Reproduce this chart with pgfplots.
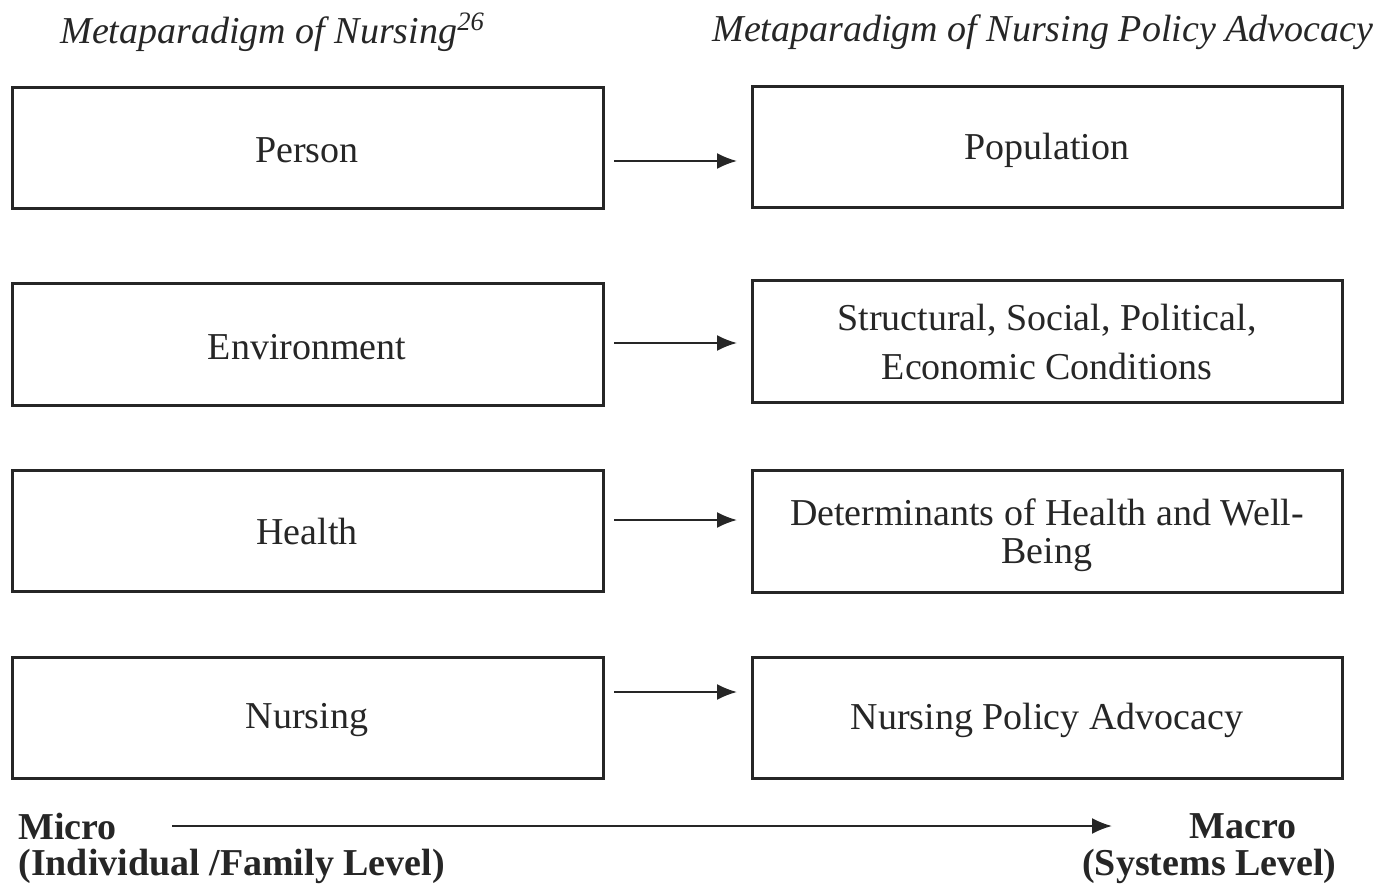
\documentclass[border=0pt]{standalone}
\usepackage{pgfplots}
\pgfplotsset{compat=1.18}
\usepackage{fontspec}
\setmainfont{Liberation Serif}
\usetikzlibrary{arrows.meta}
\tikzset{lbl/.style={font=\fontsize{19}{23}\selectfont, inner sep=0pt, text=black!85}}
\begin{document}
\begin{tikzpicture}
\begin{axis}[
  width=690pt, height=443.5pt, scale only axis,
  xmin=0, xmax=1380, ymin=0, ymax=887, y dir=reverse,
  axis lines=none, clip=false,
]
\addplot[draw=none] coordinates {(0,0) (1380,887)};
% left boxes
\addplot[black!85, line width=1.5pt] coordinates {(12,88) (603,88) (603,209) (12,209)} --cycle;
\addplot[black!85, line width=1.5pt] coordinates {(12,284) (603,284) (603,405) (12,405)} --cycle;
\addplot[black!85, line width=1.5pt] coordinates {(12,470) (603,470) (603,591) (12,591)} --cycle;
\addplot[black!85, line width=1.5pt] coordinates {(12,657) (603,657) (603,778) (12,778)} --cycle;
% right boxes
\addplot[black!85, line width=1.5pt] coordinates {(752,87) (1342,87) (1342,208) (752,208)} --cycle;
\addplot[black!85, line width=1.5pt] coordinates {(752,281) (1342,281) (1342,402) (752,402)} --cycle;
\addplot[black!85, line width=1.5pt] coordinates {(752,470) (1342,470) (1342,592) (752,592)} --cycle;
\addplot[black!85, line width=1.5pt] coordinates {(752,657) (1342,657) (1342,778) (752,778)} --cycle;
% arrows
\addplot[black!85, line width=1pt, -{Latex[length=10pt,width=8pt]}] coordinates {(614,161) (737,161)};
\addplot[black!85, line width=1pt, -{Latex[length=10pt,width=8pt]}] coordinates {(614,343) (737,343)};
\addplot[black!85, line width=1pt, -{Latex[length=10pt,width=8pt]}] coordinates {(614,520) (737,520)};
\addplot[black!85, line width=1pt, -{Latex[length=10pt,width=8pt]}] coordinates {(614,692) (737,692)};
\addplot[black!85, line width=1pt, -{Latex[length=10pt,width=8pt]}] coordinates {(172,826) (1112,826)};
% titles
\node[lbl, anchor=west] at (axis cs:60,32) {\itshape Metaparadigm of Nursing\textsuperscript{26}};
\node[lbl, anchor=west] at (axis cs:712,32) {\itshape Metaparadigm of Nursing Policy Advocacy};
% box texts
\node[lbl] at (axis cs:307,150) {Person};
\node[lbl] at (axis cs:307,347) {Environment};
\node[lbl] at (axis cs:307,532) {Health};
\node[lbl] at (axis cs:307,720) {Nursing};
\node[lbl] at (axis cs:1047,150) {Population};
\node[lbl] at (axis cs:1047,320) {Structural, Social, Political,};
\node[lbl] at (axis cs:1047,367) {Economic Conditions};
\node[lbl] at (axis cs:1047,512) {Determinants of Health and Well-};
\node[lbl] at (axis cs:1047,555) {Being};
\node[lbl] at (axis cs:1047,720) {Nursing Policy Advocacy};
% bottom labels
\node[lbl, anchor=west] at (axis cs:18,826) {\bfseries Micro};
\node[lbl, anchor=west] at (axis cs:18,866) {\bfseries (Individual /Family Level)};
\node[lbl, anchor=east] at (axis cs:1297,826) {\bfseries Macro};
\node[lbl, anchor=east] at (axis cs:1337,866) {\bfseries (Systems Level)};
\end{axis}
\end{tikzpicture}
\end{document}
